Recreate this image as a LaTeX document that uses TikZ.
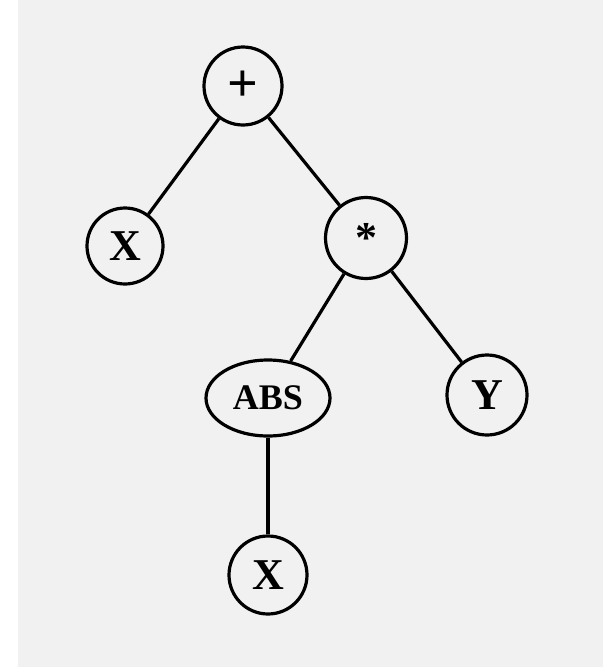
\documentclass[tikz,border=0pt]{standalone}
\usepackage{fontspec}
\setmainfont{Liberation Serif}
\usetikzlibrary{shapes.geometric}
\definecolor{papel}{RGB}{241,241,241}

\begin{document}
\begin{tikzpicture}[x=1pt, y=-1pt, line width=3.2pt,
    nodo/.style={draw, circle, minimum size=78pt, inner sep=0pt, font=\fontsize{44}{44}\selectfont\bfseries},
    nodoelip/.style={draw, ellipse, minimum width=124pt, minimum height=76pt, inner sep=0pt, font=\fontsize{36}{36}\selectfont\bfseries}]
    % fondo de papel
    \fill[white] (0,0) rectangle (603,667);
    \fill[papel] (18,0) rectangle (603,667);
    \useasboundingbox (0,0) rectangle (603,667);
    % nodos del arbol
    \node[nodo] (suma) at (243,86) {\fontsize{54}{54}\selectfont +};
    \node[nodo, minimum size=76pt] (x1) at (125,246) {X};
    \node[nodo, minimum size=81pt] (prod) at (366,238) {\raisebox{-0.22em}{*}};
    \node[nodoelip] (abs) at (268,398) {ABS};
    \node[nodo, minimum size=80pt] (y) at (487,395) {Y};
    \node[nodo] (x2) at (268,575) {X};
    % aristas
    \draw (suma) -- (x1);
    \draw (suma) -- (prod);
    \draw (prod) -- (abs);
    \draw (prod) -- (y);
    \draw (abs) -- (x2);
\end{tikzpicture}
\end{document}
